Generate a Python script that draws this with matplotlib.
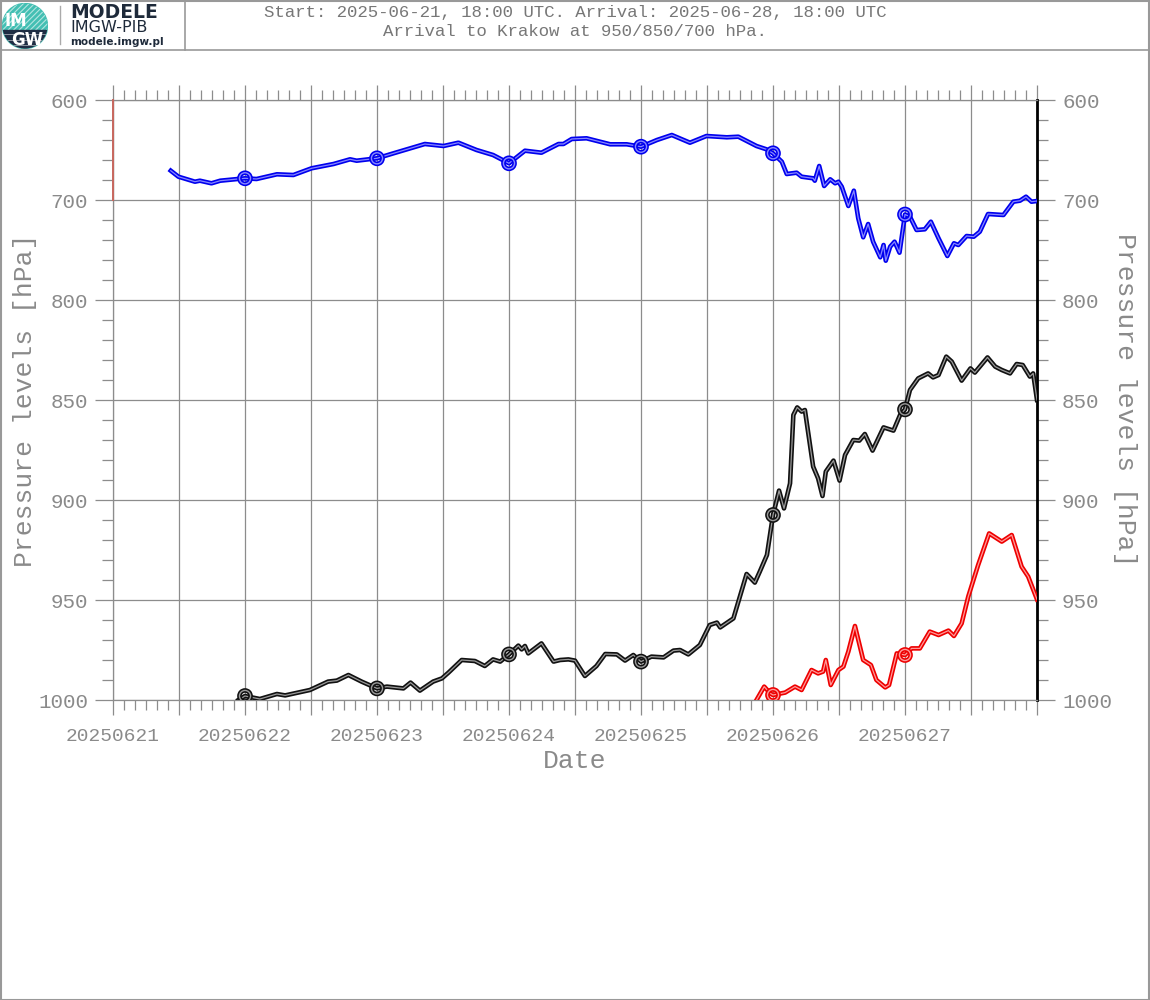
import numpy as np
import matplotlib
matplotlib.use("Agg")
import matplotlib.pyplot as plt
import matplotlib.patheffects as pe
from matplotlib.patches import Circle, Rectangle
from matplotlib.lines import Line2D

# ---------------- data ----------------
levels = [600, 700, 800, 850, 900, 950, 1000]
date_labels = ["20250621", "20250622", "20250623", "20250624",
               "20250625", "20250626", "20250627"]

# hours since 2025-06-21 00 UTC
h700 = [10.5, 11.9, 14.9, 15.8, 17.9, 19.5, 24, 26.1, 29.8, 32.8, 36.1, 40.1, 43.1, 44.3, 48,
        51.0, 56.7, 60.1, 62.8, 66.1, 69.1, 72, 74.9, 77.9, 81.0, 81.9, 83.4, 86.1, 90.4, 93.4,
        96, 98.9, 101.6, 104.9, 107.9, 111.6, 113.7, 117.0, 118.8, 120, 121.6, 122.5, 124.3,
        125.2, 127.3, 127.6, 128.4, 129.3, 130.4, 131.3, 131.9, 132.5, 133.7, 134.7, 135.5,
        136.4, 137.3, 138.2, 139.5, 140.1, 140.5, 141.3, 142.1, 143.0, 144, 144.9, 146.1,
        147.6, 148.7, 150.1, 151.7, 152.9, 153.7, 155.2, 156.5, 157.6, 159.1, 161.9, 163.7,
        164.9, 166.0, 167.0, 168]
p700 = [670.7, 676.7, 681.7, 680.7, 683.3, 680.7, 678.3, 679, 674.3, 675, 668.3, 664, 659.3,
        660.7, 658.3, 653.3, 644, 646, 642.7, 650, 655, 663.3, 650.7, 652.7, 644, 644, 639,
        638.3, 644.3, 644.3, 646.7, 640, 635, 642.7, 636, 637.3, 636.7, 646, 649.3, 653.3,
        661.7, 674, 672.7, 676.7, 678.3, 680.7, 666, 686, 679.3, 683.3, 681.7, 686.7, 706,
        690.7, 718.3, 737.3, 724, 741.7, 757.3, 745, 760.7, 746.7, 741.7, 752.7, 714.5, 716.7,
        730, 729.3, 721.7, 738.3, 756, 743.3, 745, 736, 736.7, 731.7, 714, 715, 701.7, 700.7,
        696.7, 701.7, 701]

h850 = [22.8, 24, 26.7, 29.8, 31.3, 35.8, 39.1, 40.7, 42.8, 45.2, 48, 49.8, 52.8, 54.1, 55.8,
        58.2, 59.8, 61.0, 63.4, 65.8, 67.6, 69.1, 70.4, 72, 73.7, 74.3, 74.9, 75.5, 77.9, 80.1,
        81.3, 82.8, 84.0, 85.8, 87.9, 89.5, 91.6, 93.1, 94.6, 96, 97.9, 100.1, 101.9, 103.1,
        104.6, 106.7, 108.5, 109.8, 110.4, 112.8, 115.2, 116.7, 117.6, 118.9, 120, 121.1,
        122.0, 123.1, 123.7, 124.4, 125.2, 125.8, 127.3, 128.2, 129.0, 129.6, 131.0, 132.1,
        133.1, 134.6, 135.7, 136.7, 138.1, 140.1, 141.9, 143.1, 144, 144.9, 146.4, 148.2,
        149.1, 150.1, 151.5, 152.5, 154.3, 155.9, 156.7, 159.0, 160.4, 161.6, 163.1, 164.3,
        165.4, 166.7, 167.3, 168]
p850 = [1000, 998, 999.5, 997, 997.7, 995, 990.8, 990.3, 987.5, 990.8, 994.2, 993.3, 994.2,
        991.3, 995.3, 990.8, 989.2, 986.3, 980, 980.5, 983, 979.7, 980.8, 977.2, 972.8, 974.7,
        973, 976.7, 971.7, 980.8, 980, 979.7, 980.3, 988, 983, 977, 977.2, 980.3, 977.5, 980.8,
        978.3, 978.7, 975.3, 975, 977.2, 972.5, 962.5, 961.3, 963.7, 959.2, 937, 941.3, 935.8,
        927.5, 907.5, 895.3, 904.2, 891.7, 857.5, 853.7, 855.8, 855, 883.3, 889.2, 898, 885.8,
        880.3, 890.3, 877.5, 870, 870.3, 867, 875.3, 863.7, 865.3, 857.5, 854.7, 845, 839.2,
        836.7, 838.7, 837.5, 828.3, 830.8, 840.3, 834.2, 836.3, 828.7, 833.3, 835, 836.7, 832,
        832.5, 838.3, 836.7, 850]

h950 = [117.0, 118.4, 119.5, 120, 122.2, 124.0, 125.2, 127.0, 128.2, 129.1, 129.6, 130.5,
        131.9, 132.8, 133.7, 134.9, 136.4, 137.8, 138.8, 140.4, 141.1, 142.5, 144, 145.2,
        146.7, 148.5, 150.1, 151.9, 152.9, 154.3, 155.5, 157.3, 159.3, 161.6, 163.4, 165.2,
        166.4, 168]
p950 = [1000, 993.3, 996.7, 997.5, 996.3, 993.3, 995, 985, 986.7, 985.8, 980, 992.5, 985,
        983.3, 975.8, 963, 980, 982.5, 990, 993.7, 992.5, 976.7, 977.5, 974.2, 974.2, 965.8,
        967.5, 965.3, 968, 961.7, 948.3, 932.5, 916.7, 920.8, 917.5, 933.3, 938.3, 949.7]

marker_hours = [24, 48, 72, 96, 120, 144]

# ---------------- figure ----------------
W, H = 1150, 1000
fig = plt.figure(figsize=(W / 100, H / 100), dpi=100)
fig.patch.set_facecolor("white")

ax = fig.add_axes([113 / W, 1 - 700 / H, 924 / W, 600 / H])

idx = np.arange(len(levels), dtype=float)
lev = np.array(levels, dtype=float)


def fwd(p):
    return np.interp(p, lev, idx)


def inv(i):
    return np.interp(i, idx, lev)


ax.set_yscale("function", functions=(fwd, inv))
ax.set_ylim(1000, 600)
ax.set_xlim(0, 168)

grid_c = "#8c8c8c"
txt_c = "#8a8a8a"
mono = "Liberation Mono"

# grid
for x in range(0, 169, 12):
    ax.axvline(x, color=grid_c, lw=0.9, zorder=1)
for lv in levels:
    ax.axhline(lv, color=grid_c, lw=0.9, zorder=1)

# ticks
ax.set_yticks(levels)
ax.set_yticklabels([str(v) for v in levels])
minor_y = [v for v in list(range(600, 800, 20)) + list(range(800, 1000, 10)) if v not in levels]
ax.set_yticks(minor_y, minor=True)
ax.set_xticks(list(range(0, 169, 12)))
xl = []
for x in range(0, 169, 12):
    xl.append(date_labels[x // 24] if (x % 24 == 0 and x // 24 < len(date_labels)) else "")
ax.set_xticklabels(xl)
ax.set_xticks(list(range(0, 169, 2)), minor=True)

ax.tick_params(axis="y", which="major", direction="out", length=13, width=0.9,
               color=grid_c, left=True, right=True, labelleft=True, labelright=True,
               labelsize=15, labelcolor=txt_c, pad=5)
ax.tick_params(axis="y", which="minor", direction="out", length=8, width=0.9,
               color=grid_c, left=True, right=True)
ax.tick_params(axis="x", which="major", direction="out", length=11, width=0.9,
               color=grid_c, top=True, bottom=True, labelsize=14, labelcolor=txt_c, pad=9)
ax.tick_params(axis="x", which="minor", direction="out", length=7, width=0.9,
               color=grid_c, top=True, bottom=True)
for lab in ax.get_yticklabels() + ax.get_xticklabels():
    lab.set_family(mono)

for s in ["left", "top", "bottom"]:
    ax.spines[s].set_color(grid_c)
    ax.spines[s].set_linewidth(0.9)
ax.spines["right"].set_color("black")
ax.spines["right"].set_linewidth(2)

# red start marker on left edge
ax.plot([0, 0], [600, 700], color="#c8675e", lw=1.4, zorder=4, clip_on=False)


def traj(h, p, dark, light):
    marks = [i for i, v in enumerate(h) if v in marker_hours]
    ax.plot(h, p, color=light, lw=0.9, zorder=5, marker="o", markevery=marks,
            ms=8, mfc="none", mec=light, mew=1.0, solid_joinstyle="round",
            path_effects=[pe.Stroke(linewidth=3.3, foreground=dark, joinstyle="round"),
                          pe.Normal()])


traj(h700, p700, "#0000ee", "#8888ff")
traj(h850, p850, "#111111", "#9a9a9a")
traj(h950, p950, "#ee0000", "#ff9a9a")

# axis labels
fig.text(25 / W, 1 - 400 / H, "Pressure levels [hPa]", rotation=90, ha="center", va="center",
         family=mono, size=19, color=txt_c)
fig.text(1125 / W, 1 - 400 / H, "Pressure levels [hPa]", rotation=270, ha="center", va="center",
         family=mono, size=19, color=txt_c)
fig.text(575 / W, 1 - 761 / H, "Date", ha="center", va="center",
         family=mono, size=19, color=txt_c)

# header
fig.text(575 / W, 1 - 12 / H, "Start: 2025-06-21, 18:00 UTC. Arrival: 2025-06-28, 18:00 UTC",
         ha="center", va="center", family=mono, size=12.5, color="#777777")
fig.text(575 / W, 1 - 31 / H, "Arrival to Krakow at 950/850/700 hPa.",
         ha="center", va="center", family=mono, size=12.5, color="#777777")

fig.add_artist(Line2D([0, 1], [1 - 50 / H, 1 - 50 / H], transform=fig.transFigure,
                      color="#999999", lw=1.2))
fig.add_artist(Line2D([185 / W, 185 / W], [1 - 50 / H, 1], transform=fig.transFigure,
                      color="#999999", lw=1.2))
fig.add_artist(Line2D([60 / W, 60 / W], [1 - 44 / H, 1 - 6 / H], transform=fig.transFigure,
                      color="#aaaaaa", lw=1.0))
fig.add_artist(Rectangle((0.5 / W, 0.5 / H), 1 - 1.5 / W, 1 - 1.5 / H, transform=fig.transFigure,
                         fill=False, ec="#999999", lw=1.5))

# logo
lax = fig.add_axes([2 / W, 1 - 49 / H, 46 / W, 46 / H])
lax.set_xlim(0, 1)
lax.set_ylim(0, 1)
lax.axis("off")
circ = Circle((0.5, 0.5), 0.49, color="#43bfb3", zorder=1)
lax.add_patch(circ)
for k in np.arange(-1.0, 1.2, 0.12):
    ln, = lax.plot([k, k + 1], [0, 1], color="white", lw=0.8, alpha=0.6, zorder=2)
    ln.set_clip_path(circ)
band = Rectangle((0, 0), 1, 0.42, color="#1e2d44", zorder=3)
lax.add_patch(band)
band.set_clip_path(circ)
for yy in [0.08, 0.2, 0.32]:
    ln, = lax.plot([0, 1], [yy, yy], color="white", lw=0.7, alpha=0.5, zorder=4)
    ln.set_clip_path(circ)
lax.text(0.3, 0.6, "IM", color="white", weight="bold", size=12, ha="center", va="center", zorder=5)
lax.text(0.55, 0.2, "GW", color="white", weight="bold", size=12, ha="center", va="center", zorder=5)

fig.text(70 / W, 1 - 12 / H, "MODELE", ha="left", va="center", weight="bold", size=13.5,
         color="#1e2a3a", family="DejaVu Sans")
fig.text(70 / W, 1 - 28 / H, "IMGW-PIB", ha="left", va="center", size=11.5,
         color="#1e2a3a", family="DejaVu Sans")
fig.text(70 / W, 1 - 42 / H, "modele.imgw.pl", ha="left", va="center", weight="bold", size=7.5,
         color="#1e2a3a", family="DejaVu Sans")

fig.savefig("out.png", dpi=100)
